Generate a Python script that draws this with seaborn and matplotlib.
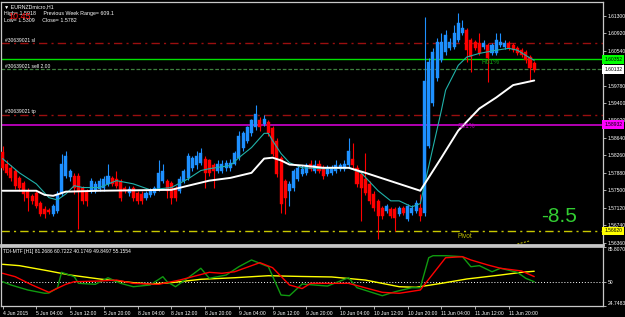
import matplotlib
matplotlib.use("Agg")
import matplotlib.pyplot as plt
import matplotlib.transforms as mtransforms
import seaborn as sns

sns.set_theme(style="dark")
plt.rcParams['font.family'] = ['Liberation Sans', 'DejaVu Sans']

# ---------------- data (EURNZD micro, H1) ----------------
opens = [1.5834, 1.5808, 1.5799, 1.5793, 1.5777, 1.5766, 1.5749, 1.5738, 1.5745, 1.5723,
         1.5710, 1.5707, 1.5699, 1.5705, 1.5742, 1.5782, 1.5780, 1.5782, 1.5782, 1.5756,
         1.5749, 1.5749, 1.5749, 1.5753, 1.5756, 1.5764, 1.5777, 1.5775, 1.5771, 1.5756,
         1.5745, 1.5756, 1.5745, 1.5742, 1.5734, 1.5740, 1.5745, 1.5753, 1.5771, 1.5771,
         1.5766, 1.5756, 1.5749, 1.5771, 1.5777, 1.5799, 1.5804, 1.5810, 1.5819, 1.5815,
         1.5804, 1.5793, 1.5793, 1.5799, 1.5799, 1.5808, 1.5821, 1.5841, 1.5858, 1.5874,
         1.5887, 1.5902, 1.5895, 1.5898, 1.5885, 1.5858, 1.5821, 1.5771, 1.5749, 1.5756,
         1.5775, 1.5786, 1.5788, 1.5808, 1.5793, 1.5808, 1.5799, 1.5786, 1.5788, 1.5793,
         1.5797, 1.5797, 1.5804, 1.5819, 1.5799, 1.5786, 1.5775, 1.5764, 1.5742, 1.5727,
         1.5712, 1.5705, 1.5710, 1.5710, 1.5699, 1.5712, 1.5688, 1.5701, 1.5705, 1.5712,
         1.5701, 1.5847, 1.5939, 1.5994, 1.6033, 1.6051, 1.6059, 1.6062, 1.6077, 1.6092,
         1.6099, 1.6077, 1.6073, 1.6070, 1.6062, 1.6066, 1.6048, 1.6048, 1.6066, 1.6062,
         1.6070, 1.6066, 1.6059, 1.6055, 1.6051, 1.6040, 1.6027]
highs = [1.5847, 1.5815, 1.5804, 1.5797, 1.5782, 1.5771, 1.5756, 1.5742, 1.5749, 1.5727,
         1.5716, 1.5712, 1.5721, 1.5749, 1.5830, 1.5836, 1.5797, 1.5788, 1.5788, 1.5760,
         1.5753, 1.5777, 1.5771, 1.5777, 1.5782, 1.5808, 1.5782, 1.5793, 1.5775, 1.5760,
         1.5760, 1.5760, 1.5749, 1.5749, 1.5749, 1.5756, 1.5760, 1.5815, 1.5808, 1.5775,
         1.5771, 1.5760, 1.5782, 1.5797, 1.5832, 1.5825, 1.5836, 1.5841, 1.5825, 1.5819,
         1.5810, 1.5815, 1.5815, 1.5815, 1.5819, 1.5836, 1.5880, 1.5880, 1.5891, 1.5906,
         1.5935, 1.5909, 1.5913, 1.5902, 1.5891, 1.5863, 1.5825, 1.5775, 1.5771, 1.5797,
         1.5804, 1.5804, 1.5810, 1.5815, 1.5815, 1.5815, 1.5804, 1.5804, 1.5806, 1.5817,
         1.5810, 1.5815, 1.5863, 1.5852, 1.5804, 1.5793, 1.5832, 1.5771, 1.5749, 1.5732,
         1.5716, 1.5721, 1.5714, 1.5714, 1.5716, 1.5716, 1.5721, 1.5718, 1.5729, 1.5742,
         1.6127, 1.6038, 1.6059, 1.6081, 1.6092, 1.6099, 1.6081, 1.6110, 1.6136, 1.6121,
         1.6103, 1.6081, 1.6077, 1.6092, 1.6077, 1.6070, 1.6070, 1.6092, 1.6092, 1.6077,
         1.6075, 1.6070, 1.6064, 1.6059, 1.6055, 1.6044, 1.6031]
lows = [1.5795, 1.5784, 1.5771, 1.5753, 1.5749, 1.5727, 1.5705, 1.5721, 1.5712, 1.5694,
        1.5690, 1.5699, 1.5694, 1.5701, 1.5738, 1.5777, 1.5771, 1.5742, 1.5666, 1.5721,
        1.5716, 1.5745, 1.5745, 1.5749, 1.5749, 1.5760, 1.5760, 1.5756, 1.5727, 1.5745,
        1.5738, 1.5727, 1.5721, 1.5721, 1.5729, 1.5736, 1.5740, 1.5749, 1.5766, 1.5734,
        1.5721, 1.5727, 1.5745, 1.5766, 1.5773, 1.5793, 1.5797, 1.5806, 1.5756, 1.5782,
        1.5756, 1.5788, 1.5788, 1.5793, 1.5793, 1.5804, 1.5815, 1.5836, 1.5854, 1.5869,
        1.5882, 1.5880, 1.5891, 1.5869, 1.5825, 1.5780, 1.5701, 1.5699, 1.5716, 1.5749,
        1.5771, 1.5782, 1.5784, 1.5793, 1.5788, 1.5788, 1.5775, 1.5782, 1.5784, 1.5788,
        1.5793, 1.5793, 1.5799, 1.5797, 1.5758, 1.5683, 1.5740, 1.5721, 1.5705, 1.5644,
        1.5688, 1.5701, 1.5690, 1.5662, 1.5694, 1.5697, 1.5683, 1.5697, 1.5701, 1.5683,
        1.5694, 1.5841, 1.5933, 1.5989, 1.6029, 1.6044, 1.6055, 1.6057, 1.6073, 1.6088,
        1.6029, 1.6007, 1.6055, 1.6044, 1.6057, 1.5985, 1.6044, 1.6044, 1.6062, 1.6057,
        1.6055, 1.6051, 1.6044, 1.6040, 1.6027, 1.5989, 1.6007]
closes = [1.5799, 1.5788, 1.5777, 1.5760, 1.5756, 1.5742, 1.5734, 1.5727, 1.5716, 1.5699,
          1.5699, 1.5703, 1.5716, 1.5742, 1.5808, 1.5825, 1.5793, 1.5756, 1.5749, 1.5727,
          1.5727, 1.5771, 1.5764, 1.5771, 1.5775, 1.5782, 1.5764, 1.5760, 1.5734, 1.5749,
          1.5753, 1.5734, 1.5727, 1.5727, 1.5745, 1.5751, 1.5756, 1.5788, 1.5793, 1.5749,
          1.5734, 1.5734, 1.5775, 1.5793, 1.5825, 1.5821, 1.5825, 1.5832, 1.5788, 1.5788,
          1.5793, 1.5808, 1.5808, 1.5810, 1.5810, 1.5832, 1.5869, 1.5874, 1.5887, 1.5902,
          1.5917, 1.5887, 1.5906, 1.5874, 1.5830, 1.5786, 1.5721, 1.5734, 1.5764, 1.5793,
          1.5799, 1.5797, 1.5804, 1.5797, 1.5804, 1.5793, 1.5782, 1.5797, 1.5799, 1.5804,
          1.5804, 1.5808, 1.5836, 1.5804, 1.5764, 1.5756, 1.5745, 1.5727, 1.5712, 1.5694,
          1.5694, 1.5716, 1.5694, 1.5690, 1.5712, 1.5701, 1.5716, 1.5712, 1.5723, 1.5694,
          1.5989, 1.6029, 1.6051, 1.6073, 1.6073, 1.6088, 1.6073, 1.6092, 1.6114, 1.6103,
          1.6055, 1.6040, 1.6059, 1.6048, 1.6070, 1.6038, 1.6066, 1.6077, 1.6073, 1.6070,
          1.6059, 1.6055, 1.6048, 1.6044, 1.6033, 1.6016, 1.6011]

time_labels = ["4 Jun 2015", "5 Jun 04:00", "5 Jun 12:00", "5 Jun 20:00", "8 Jun 04:00",
               "8 Jun 12:00", "8 Jun 20:00", "9 Jun 04:00", "9 Jun 12:00", "9 Jun 20:00",
               "10 Jun 04:00", "10 Jun 12:00", "10 Jun 20:00", "11 Jun 04:00",
               "11 Jun 12:00", "11 Jun 20:00"]
time_label_bars = [0, 8, 16, 24, 32, 40, 48, 56, 64, 72, 80, 88, 96, 104, 112, 120]

# visible price scale labels (1.60160 is hidden behind the order label)
price_ticks = [1.56360, 1.56740, 1.57120, 1.57500, 1.57880, 1.58260, 1.58640,
               1.59020, 1.59400, 1.59780, 1.60540, 1.60920, 1.61300]

# fast moving average (cyan) read at sample bars
fast_ma_bars = [0, 4, 8, 11, 13, 15, 17, 19, 23, 27, 31, 35, 40, 44, 47, 49, 54, 56, 59,
                62, 63, 64, 66, 68, 71, 76, 82, 85, 89, 92, 94, 97, 99, 104, 105, 108,
                110, 113, 117, 120, 122, 125, 126]
fast_ma_vals = [1.5819, 1.5788, 1.5764, 1.5734, 1.5729, 1.5742, 1.5760, 1.5756, 1.5756,
                1.5771, 1.5764, 1.5751, 1.5756, 1.5775, 1.5793, 1.5797, 1.5804, 1.5821,
                1.5843, 1.5874, 1.5874, 1.5858, 1.5830, 1.5810, 1.5799, 1.5797, 1.5799,
                1.5788, 1.5749, 1.5727, 1.5727, 1.5714, 1.5721, 1.5924, 1.5968, 1.6022,
                1.6040, 1.6048, 1.6055, 1.6059, 1.6055, 1.6038, 1.6033]
# slow moving average (white)
slow_ma_bars = [0, 8, 10, 12, 15, 23, 40, 44, 49, 54, 59, 62, 64, 66, 68, 71, 76, 82, 86,
                94, 99, 104, 108, 113, 117, 121, 126]
slow_ma_vals = [1.5749, 1.5749, 1.5740, 1.5738, 1.5747, 1.5749, 1.5751, 1.5760, 1.5771,
                1.5777, 1.5788, 1.5819, 1.5821, 1.5815, 1.5806, 1.5804, 1.5799, 1.5799,
                1.5788, 1.5764, 1.5749, 1.5821, 1.5880, 1.5928, 1.5952, 1.5979, 1.5989]

# order / level lines
sl_price = 1.60696
target_price = 1.60352
sell_price = 1.60132
tp_price = 1.59129
fib_price = 1.58932
pivot_price = 1.56615

# TDI indicator
tdi_base_bars = [0, 4, 11, 16, 23, 31, 35, 40, 47, 55, 63, 71, 78, 86, 94, 98, 104,
                 110, 118, 123, 126]
tdi_base_vals = [67.9, 66.5, 61.0, 56.8, 52.7, 48.9, 47.5, 48.9, 52.4, 54.0, 56.1, 55.3,
                 54.8, 51.6, 44.7, 44.1, 48.2, 52.7, 56.8, 59.6, 60.72]
tdi_signal_bars = [0, 3, 7, 11, 15, 17, 23, 27, 31, 37, 42, 49, 52, 55, 61, 64, 68, 71,
                   73, 82, 90, 94, 99, 105, 109, 111, 115, 118, 123, 126]
tdi_signal_vals = [58.6, 55.1, 46.5, 38.9, 47.2, 49.9, 50.6, 51.6, 48.2, 47.2, 51.6, 59.6,
                   58.6, 60.2, 69.6, 64.4, 46.5, 42.8, 48.2, 48.2, 38.9, 37.9, 41.3, 74.7,
                   75.8, 72.4, 67.2, 63.8, 61.0, 55.16]
tdi_rsi_bars = [0, 2, 6, 10, 11, 13, 14, 17, 18, 22, 25, 28, 31, 35, 38, 39, 41, 44, 47,
                49, 53, 56, 59, 63, 66, 68, 71, 77, 82, 84, 90, 93, 97, 99, 101, 102, 105,
                109, 111, 113, 116, 118, 122, 124, 126]
tdi_rsi_vals = [49.9, 46.5, 41.3, 37.9, 38.2, 43.4, 59.6, 55.1, 48.2, 47.2, 54.0, 48.2,
                44.7, 46.5, 55.1, 49.9, 44.7, 54.0, 63.8, 53.4, 56.8, 65.4, 72.4, 65.4,
                36.1, 35.4, 47.5, 45.4, 54.0, 43.7, 35.4, 39.5, 43.7, 43.7, 74.7, 76.8,
                76.8, 75.8, 65.4, 66.5, 60.2, 63.8, 59.6, 53.4, 49.85]
tdi_min, tdi_mid, tdi_max = 24.7483, 50.0, 85.8070

# ---------------- figure ----------------
W, H = 625, 317
fig = plt.figure(figsize=(W / 100, H / 100), dpi=100, facecolor="black")
ax = fig.add_axes([1 / W, 1 - 245 / H, 602 / W, 243 / H])
ax2 = fig.add_axes([1 / W, 1 - 306 / H, 602 / W, 59 / H])

frame_col = "#c8c8c8"
for a in (ax, ax2):
    a.set_facecolor("black")
    a.grid(False)
    for s in a.spines.values():
        s.set_color(frame_col)
        s.set_linewidth(0.9)
ax.spines["bottom"].set_linewidth(2.0)
ax2.spines["top"].set_linewidth(1.2)

xmin, xmax = -0.36, 142.3
n = len(closes)
bars = list(range(n))

# candles
bull, bear = "#1e90ff", "#ff0000"
cols = [bull if c >= o else bear for o, c in zip(opens, closes)]
ax.vlines(bars, lows, highs, colors=cols, linewidth=0.8, zorder=3)
ax.bar(bars, [max(abs(c - o), 0.00004) for o, c in zip(opens, closes)],
       bottom=[min(o, c) for o, c in zip(opens, closes)], width=0.72,
       color=cols, edgecolor=cols, linewidth=0.3, zorder=4)

# moving averages
sns.lineplot(x=fast_ma_bars, y=fast_ma_vals, ax=ax, color="#20b2aa", linewidth=0.8,
             legend=False, zorder=5)
sns.lineplot(x=slow_ma_bars, y=slow_ma_vals, ax=ax, color="white", linewidth=1.4,
             legend=False, zorder=5)

# level lines
dashdot = (0, (6, 3, 1.5, 3))
ax.axhline(sl_price, color="#9a0f0f", linewidth=1.0, linestyle=dashdot, zorder=2)
ax.axhline(target_price, color="#00e000", linewidth=1.0, zorder=2)
ax.axhline(sell_price, color="#3f7f3f", linewidth=0.9, linestyle=(0, (3, 1.5)), zorder=2)
ax.axhline(tp_price, color="#9a0f0f", linewidth=1.0, linestyle=dashdot, zorder=2)
ax.axhline(fib_price, color="#d000d0", linewidth=1.2, zorder=2)
ax.axhline(pivot_price, color="#c8c800", linewidth=1.0, linestyle=dashdot, zorder=2)
ax.plot([122, 125], [1.5633, 1.5640], color="#c8c800", linewidth=0.7,
        linestyle=(0, (2, 1.5)), zorder=2)

ax.set_xlim(xmin, xmax)
ax.set_ylim(1.56309, 1.61599)
ax.set_xticks([])
ax.yaxis.tick_right()
ax.set_yticks(price_ticks)
ax.set_yticklabels([f"{p:.5f}" for p in price_ticks])
ax.tick_params(axis="y", direction="out", length=2, width=0.6, color=frame_col,
               labelcolor="white", labelsize=3.6, pad=1.5, right=True, left=False)

trans = mtransforms.blended_transform_factory(ax.transAxes, ax.transData)
def price_box(price, txt, fc):
    ax.text(1.002, price, txt, transform=trans, fontsize=3.6, color="black",
            ha="left", va="center", zorder=10, clip_on=False,
            bbox=dict(boxstyle="square,pad=0.35", fc=fc, ec="none"))
price_box(target_price, "1.60352", "#00ff00")
price_box(sell_price, "1.60132", "white")
price_box(fib_price, "1.58932", "#ff00ff")
price_box(pivot_price, "1.56620", "#ffff00")

# texts in main chart
def ftext(x, y, s, **kw):
    fig.text(x / W, 1 - y / H, s, **kw)

ftext(4, 7, "\u25bc EURNZDmicro,H1", fontsize=3.8, color="white", va="center")
ftext(4, 14, "High= 1.5918     Previous Week Range= 609.1", fontsize=3.8,
      color="white", va="center")
ftext(4, 21, "Low= 1.5309     Close= 1.5782", fontsize=3.8, color="white", va="center")
ftext(8, 16.5, "10:45", fontsize=6.5, color="#ff1010", va="center")
ftext(5, 40, "#30639021 sl", fontsize=3.6, color="white", va="center")
ftext(5, 66.5, "#30639021 sell 2.00", fontsize=3.6, color="white", va="center")
ftext(5, 111, "#30639021 tp", fontsize=3.6, color="white", va="center")
ftext(482, 62, "R61%", fontsize=4.8, color="#13a313", va="center")
ftext(458, 126.5, "S61%", fontsize=4.8, color="#c000c0", va="center")
ftext(458, 236, "Pivot", fontsize=4.8, color="#b8b800", va="center")
ftext(541, 216, "-8.5", fontsize=15, color="#32cd32", va="center")

# ---------------- TDI panel ----------------
sns.lineplot(x=tdi_base_bars, y=tdi_base_vals, ax=ax2, color="#ffff00", linewidth=1.0,
             legend=False)
sns.lineplot(x=tdi_rsi_bars, y=tdi_rsi_vals, ax=ax2, color="#109a10", linewidth=1.0,
             legend=False)
sns.lineplot(x=tdi_signal_bars, y=tdi_signal_vals, ax=ax2, color="#ff0000", linewidth=1.0,
             legend=False)
ax2.axhline(tdi_mid, color="white", linewidth=0.7, linestyle=(0, (1, 2)), zorder=1)

ax2.set_xlim(xmin, xmax)
ax2.set_ylim(tdi_min, tdi_max)
ax2.yaxis.tick_right()
ax2.set_yticks([tdi_min, tdi_mid, tdi_max])
ax2.set_yticklabels([f"{tdi_min:.4f}", "50", f"{tdi_max:.4f}"])
ax2.tick_params(axis="y", direction="out", length=2, width=0.6, color=frame_col,
                labelcolor="white", labelsize=3.6, pad=1.5, right=True, left=False)
ylabs = ax2.get_yticklabels()
ylabs[0].set_va("bottom")
ylabs[-1].set_va("top")
ax2.set_xticks(time_label_bars)
ax2.set_xticklabels(time_labels, ha="left")
ax2.tick_params(axis="x", direction="out", length=2, width=0.6, color=frame_col,
                labelcolor="white", labelsize=3.6, pad=1.5, bottom=True)
for a in (ax, ax2):
    a.set_xlabel("")
    a.set_ylabel("")

ax2.text(0.004, 0.96, "TDI-MTF [H1] 81.2686 60.7222 40.1749 49.8497 55.1554",
         transform=ax2.transAxes, fontsize=3.6, color="white", ha="left", va="top")

fig.savefig("out.png", dpi=100, facecolor="black")
